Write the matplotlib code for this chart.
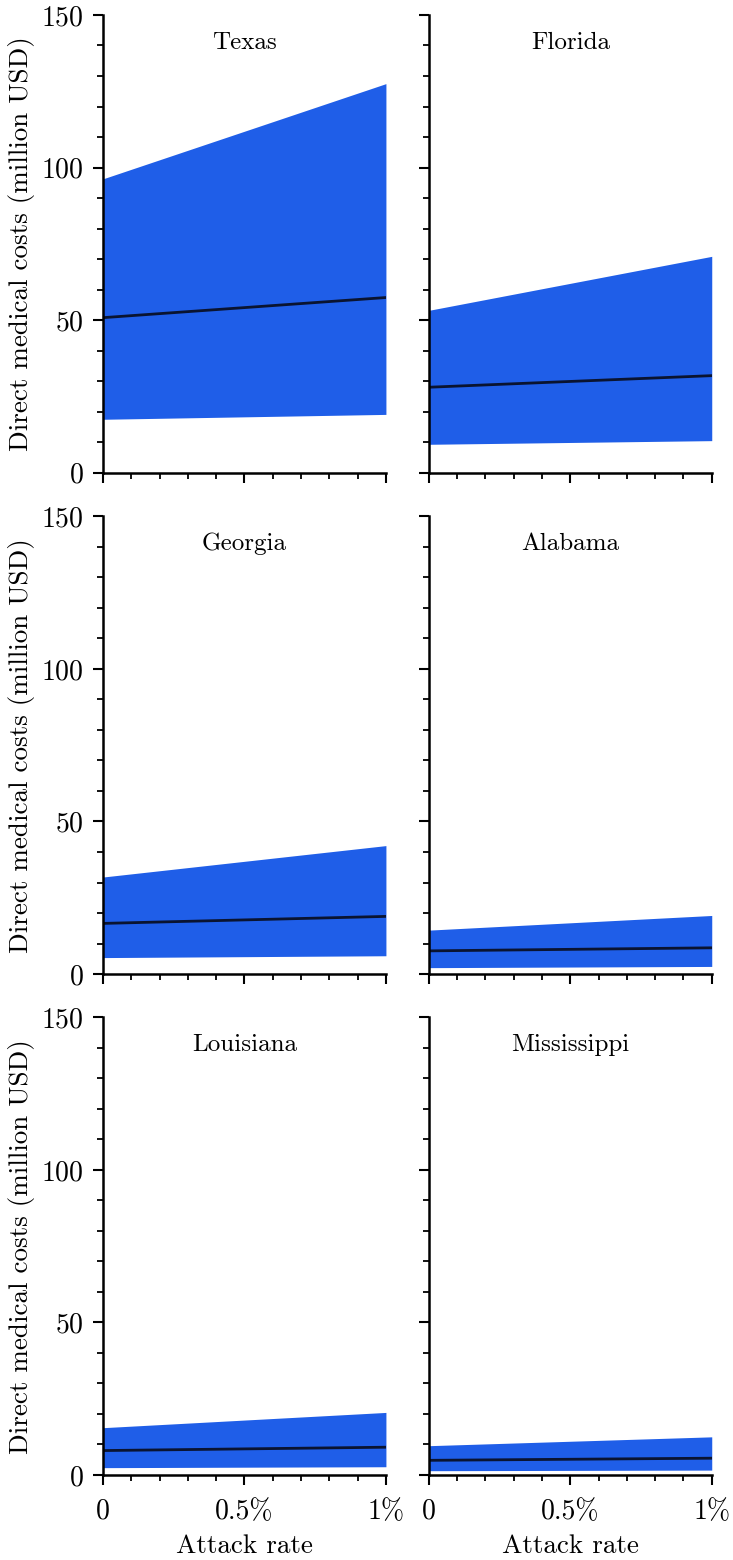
import matplotlib
matplotlib.use("Agg")
import matplotlib.pyplot as plt
from matplotlib.ticker import MultipleLocator

plt.rcParams['font.family'] = ['cmr10', 'DejaVu Serif']
plt.rcParams['mathtext.fontset'] = 'cm'
plt.rcParams['axes.formatter.use_mathtext'] = True

# attack rate (%) at the two ends of each panel
attack = [0.0, 1.0]

states = ['Texas', 'Florida', 'Georgia', 'Alabama', 'Louisiana', 'Mississippi']

# direct medical costs (million USD): median, lower and upper bound
median = {
    'Texas': [50.8, 57.4],
    'Florida': [28.0, 31.8],
    'Georgia': [16.6, 18.9],
    'Alabama': [7.6, 8.6],
    'Louisiana': [8.0, 9.1],
    'Mississippi': [4.8, 5.5],
}
lower = {
    'Texas': [17.5, 19.1],
    'Florida': [9.3, 10.5],
    'Georgia': [5.4, 6.0],
    'Alabama': [2.1, 2.5],
    'Louisiana': [2.4, 2.7],
    'Mississippi': [1.4, 1.6],
}
upper = {
    'Texas': [96.3, 127.5],
    'Florida': [53.2, 70.9],
    'Georgia': [31.8, 42.1],
    'Alabama': [14.4, 19.2],
    'Louisiana': [15.5, 20.5],
    'Mississippi': [9.6, 12.5],
}

xticks = [0, 0.5, 1]
xticklabels = ['0', '0.5%', '1%']
yticks = [0, 50, 100, 150]

fig = plt.figure(figsize=(7.33, 15.6), dpi=100)
lefts = [0.1405, 0.585]
width = 0.386
bottoms = [0.697, 0.3756, 0.0545]
height = 0.2934

for i, st in enumerate(states):
    r, c = divmod(i, 2)
    ax = fig.add_axes([lefts[c], bottoms[r], width, height])
    ax.fill_between(attack, lower[st], upper[st], color='#1f5ee8', lw=0)
    ax.plot(attack, median[st], color='#0a1431', lw=2.0)
    ax.set_xlim(0, 1)
    ax.set_ylim(0, 150)
    for s in ['top', 'right']:
        ax.spines[s].set_visible(False)
    for s in ['left', 'bottom']:
        ax.spines[s].set_linewidth(1.8)
    ax.set_xticks(xticks)
    ax.xaxis.set_minor_locator(MultipleLocator(0.1))
    ax.set_yticks(yticks)
    ax.yaxis.set_minor_locator(MultipleLocator(10))
    ax.tick_params(which='major', length=7, width=1.5, labelsize=20)
    ax.tick_params(axis='y', which='major', pad=7)
    ax.tick_params(axis='x', which='major', pad=10)
    ax.tick_params(which='minor', length=4, width=1.3)
    if r == 2:
        ax.set_xticklabels(xticklabels)
        ax.set_xlabel('Attack rate', fontsize=19.5, labelpad=7)
    else:
        ax.set_xticklabels([])
    if c == 0:
        ax.set_ylabel('Direct medical costs (million USD)', fontsize=19.5, labelpad=4)
    else:
        ax.set_yticklabels([])
    ax.text(0.5, 0.94, st, transform=ax.transAxes, ha='center', va='center', fontsize=18)

fig.savefig('out.png', dpi=100)
